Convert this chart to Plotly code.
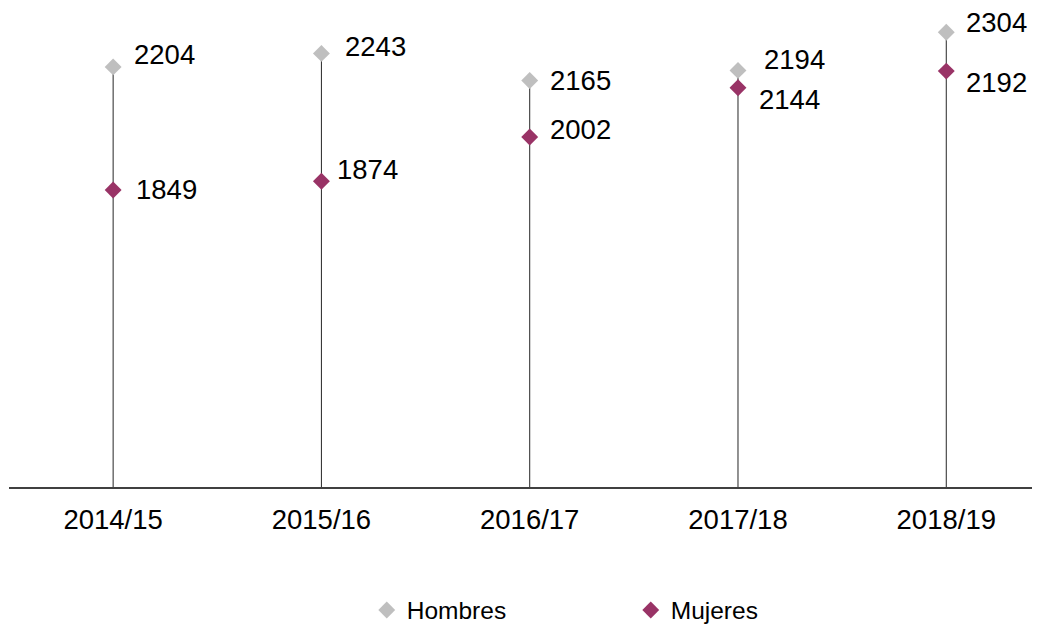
import plotly.graph_objects as go

# ---- data ----
categories = ["2014/15", "2015/16", "2016/17", "2017/18", "2018/19"]
hombres = [2204, 2243, 2165, 2194, 2304]
mujeres = [1849, 1874, 2002, 2144, 2192]

# label placement (pixel shifts) - style only
h_label_dy = [12, 7, 0, 11, 10]
m_label_dy = [0, 12, 7, -12, -11]
h_label_dx = [19, 22, 18, 24, 18]
m_label_dx = [21, 14, 18, 19, 18]

Y_MIN, Y_MAX = 992, 2374
GREY = "#BFBFBF"
PLUM = "#993366"
FONT = "Liberation Sans, Arial, sans-serif"

# vertical drop lines from axis to the higher marker
lx, ly = [], []
for c, h, m in zip(categories, hombres, mujeres):
    lx += [c, c, None]
    ly += [Y_MIN, max(h, m), None]

fig = go.Figure()
fig.add_trace(go.Scatter(x=lx, y=ly, mode="lines", line=dict(color="#262626", width=1),
                         showlegend=False, hoverinfo="skip"))
fig.add_trace(go.Scatter(x=categories, y=hombres, mode="markers", name="Hombres",
                         marker=dict(symbol="diamond", size=13, color=GREY)))
fig.add_trace(go.Scatter(x=categories, y=mujeres, mode="markers", name="Mujeres",
                         marker=dict(symbol="diamond", size=13, color=PLUM)))

annotations = []
for i, c in enumerate(categories):
    annotations.append(dict(x=c, y=hombres[i], xref="x", yref="y", text=str(hombres[i]),
                            showarrow=False, xanchor="left", yanchor="middle",
                            xshift=h_label_dx[i], yshift=h_label_dy[i],
                            font=dict(size=27.5, color="#000000", family=FONT)))
    annotations.append(dict(x=c, y=mujeres[i], xref="x", yref="y", text=str(mujeres[i]),
                            showarrow=False, xanchor="left", yanchor="middle",
                            xshift=m_label_dx[i], yshift=m_label_dy[i],
                            font=dict(size=27.5, color="#000000", family=FONT)))

# page body has an 8px default margin; figure sized to fit the window
fig.update_layout(
    width=1032, height=620,
    margin=dict(l=1, r=0, t=0, b=141, autoexpand=False),
    paper_bgcolor="white", plot_bgcolor="white",
    font=dict(family=FONT, color="#000000"),
    xaxis=dict(type="category", range=[-0.5, 4.45], showline=True, linecolor="#404040",
               linewidth=1.5, showgrid=False, zeroline=False, ticks="",
               tickfont=dict(size=27.5, color="#000000", family=FONT),
               ticklabelstandoff=7, automargin=False),
    yaxis=dict(range=[Y_MIN, Y_MAX], visible=False, showgrid=False, zeroline=False,
               automargin=False),
    showlegend=True,
    legend=dict(orientation="h", x=0.347, xanchor="left", y=-0.2568, yanchor="middle",
                font=dict(size=24.5, color="#000000", family=FONT),
                entrywidth=219, entrywidthmode="pixels", itemwidth=30),
    annotations=annotations,
)

fig.write_html("out.html")
